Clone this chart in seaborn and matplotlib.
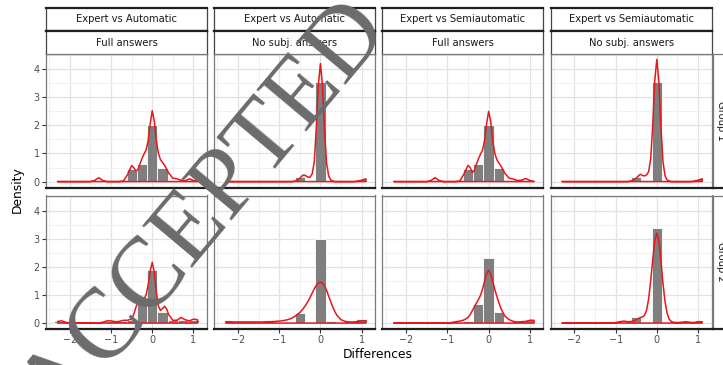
import matplotlib
matplotlib.use("Agg")
import matplotlib.pyplot as plt
import seaborn as sns
from matplotlib.ticker import MultipleLocator

# facet labels
comparisons = ["Expert vs Automatic", "Expert vs Automatic",
               "Expert vs Semiautomatic", "Expert vs Semiautomatic"]
answer_types = ["Full answers", "No subj. answers", "Full answers", "No subj. answers"]
groups = ["Group 1", "Group 2"]

# histogram (density scale), bins of width 0.25
bin_centers = [-2.25, -2.0, -1.75, -1.5, -1.25, -1.0, -0.75, -0.5, -0.25, 0.0, 0.25, 0.5, 0.75, 1.0]
h_g1_auto_full = [0, 0, 0, 0, 0.04, 0, 0.04, 0.46, 0.61, 2.0, 0.5, 0.06, 0.04, 0.04]
h_g1_auto_nosubj = [0, 0, 0, 0, 0, 0, 0, 0.16, 0.07, 3.53, 0.02, 0, 0, 0.08]
h_g1_semi_full = [0, 0, 0, 0, 0.04, 0, 0.04, 0.46, 0.61, 2.0, 0.5, 0.06, 0.04, 0.04]
h_g1_semi_nosubj = [0, 0, 0, 0, 0, 0, 0, 0.16, 0.05, 3.53, 0.02, 0, 0, 0.08]
h_g2_auto_full = [0.08, 0, 0, 0, 0, 0.06, 0.08, 0.1, 0.76, 1.9, 0.41, 0.12, 0.1, 0.12]
h_g2_auto_nosubj = [0.04, 0, 0, 0, 0, 0, 0, 0.35, 0.04, 3.01, 0.06, 0, 0, 0.13]
h_g2_semi_full = [0, 0, 0, 0, 0, 0, 0.04, 0.06, 0.68, 2.3, 0.41, 0.05, 0.04, 0.1]
h_g2_semi_nosubj = [0, 0, 0, 0, 0, 0, 0.04, 0.21, 0.04, 3.37, 0.04, 0.02, 0.02, 0.04]

# density curves
dens_x = [-2.3, -2.2, -2.1, -2.0, -1.8, -1.6, -1.5, -1.4, -1.3, -1.2, -1.1, -1.0,
          -0.9, -0.8, -0.7, -0.6, -0.5, -0.45, -0.4, -0.35, -0.3, -0.25, -0.2, -0.15,
          -0.1, -0.05, 0.0, 0.05, 0.1, 0.15, 0.2, 0.25, 0.3, 0.35, 0.4, 0.5,
          0.6, 0.7, 0.8, 0.9, 1.0, 1.1]
d_g1_auto_full = [0, 0, 0, 0, 0, 0, 0, 0.04, 0.14, 0.04, 0, 0,
                  0, 0, 0.02, 0.25, 0.57, 0.5, 0.38, 0.42, 0.62, 0.82, 0.98, 1.12,
                  1.45, 2.05, 2.52, 2.15, 1.45, 1.0, 0.78, 0.68, 0.58, 0.45, 0.3, 0.12,
                  0.1, 0.05, 0.03, 0.1, 0.04, 0.0]
d_g1_auto_nosubj = [0, 0, 0, 0, 0, 0, 0, 0, 0, 0, 0, 0,
                    0, 0, 0, 0.02, 0.12, 0.2, 0.24, 0.2, 0.16, 0.16, 0.28, 0.7,
                    1.9, 3.45, 4.2, 3.4, 1.8, 0.65, 0.2, 0.06, 0.02, 0, 0, 0,
                    0, 0, 0, 0.01, 0.05, 0.1]
d_g1_semi_full = [0, 0, 0, 0, 0, 0, 0, 0.04, 0.14, 0.04, 0, 0,
                  0, 0, 0.02, 0.27, 0.58, 0.5, 0.33, 0.38, 0.6, 0.8, 0.97, 1.12,
                  1.45, 2.05, 2.5, 2.15, 1.45, 1.0, 0.78, 0.66, 0.55, 0.42, 0.28, 0.12,
                  0.09, 0.04, 0.05, 0.11, 0.04, 0.0]
d_g1_semi_nosubj = [0, 0, 0, 0, 0, 0, 0, 0, 0, 0, 0, 0,
                    0, 0, 0, 0.03, 0.12, 0.2, 0.26, 0.22, 0.2, 0.24, 0.35, 0.8,
                    2.0, 3.6, 4.35, 3.55, 1.9, 0.7, 0.2, 0.06, 0.02, 0, 0, 0,
                    0, 0, 0, 0.01, 0.05, 0.1]
d_g2_auto_full = [0.06, 0.08, 0.03, 0, 0, 0, 0, 0, 0.01, 0.03, 0.08, 0.08,
                  0.05, 0.06, 0.1, 0.1, 0.15, 0.3, 0.55, 0.75, 0.8, 0.82, 0.86, 1.0,
                  1.35, 1.85, 2.16, 1.8, 1.1, 0.6, 0.45, 0.52, 0.6, 0.5, 0.3, 0.1,
                  0.1, 0.2, 0.12, 0.08, 0.14, 0.12]
d_g2_auto_nosubj = [0.05, 0.05, 0.04, 0.04, 0.04, 0.04, 0.04, 0.04, 0.05, 0.05, 0.06, 0.07,
                    0.09, 0.12, 0.17, 0.26, 0.38, 0.46, 0.55, 0.66, 0.78, 0.92, 1.07, 1.22,
                    1.34, 1.43, 1.46, 1.42, 1.32, 1.16, 0.96, 0.76, 0.57, 0.41, 0.28, 0.12,
                    0.06, 0.04, 0.04, 0.05, 0.08, 0.08]
d_g2_semi_full = [0, 0, 0, 0, 0, 0, 0, 0, 0, 0, 0, 0.0,
                  0.02, 0.05, 0.07, 0.11, 0.2, 0.3, 0.43, 0.57, 0.7, 0.83, 0.98, 1.2,
                  1.48, 1.75, 1.88, 1.75, 1.48, 1.2, 0.95, 0.72, 0.52, 0.36, 0.24, 0.12,
                  0.06, 0.04, 0.05, 0.06, 0.1, 0.1]
d_g2_semi_nosubj = [0, 0, 0, 0, 0, 0, 0, 0, 0, 0, 0, 0.02,
                    0.05, 0.07, 0.05, 0.06, 0.12, 0.16, 0.2, 0.22, 0.27, 0.45, 0.85, 1.5,
                    2.25, 2.93, 3.2, 2.93, 2.2, 1.4, 0.75, 0.35, 0.14, 0.06, 0.03, 0.02,
                    0.03, 0.05, 0.03, 0.02, 0.05, 0.05]

hists = [[h_g1_auto_full, h_g1_auto_nosubj, h_g1_semi_full, h_g1_semi_nosubj],
         [h_g2_auto_full, h_g2_auto_nosubj, h_g2_semi_full, h_g2_semi_nosubj]]
dens = [[d_g1_auto_full, d_g1_auto_nosubj, d_g1_semi_full, d_g1_semi_nosubj],
        [d_g2_auto_full, d_g2_auto_nosubj, d_g2_semi_full, d_g2_semi_nosubj]]

sns.set_theme(style="white")
plt.rcParams['font.family'] = ['DejaVu Sans']

W, H = 723, 365
fig = plt.figure(figsize=(W / 100, H / 100), dpi=100)


def box(x0, y0, w, h):
    # pixel box (top-left origin) -> figure fraction
    return [x0 / W, 1 - (y0 + h) / H, w / W, h / H]


col_left = [46, 214.2, 382.4, 550.6]
pw = 161
row_top = [54, 195.5]
ph = 133.5
strip_h = 23

for r in range(2):
    for c in range(4):
        ax = fig.add_axes(box(col_left[c], row_top[r], pw, ph))
        ax.set_facecolor("white")
        sns.histplot(x=bin_centers, weights=hists[r][c], binwidth=0.25,
                     binrange=(-2.375, 1.125), stat="count", color="#7f7f7f",
                     edgecolor="white", linewidth=0.6, alpha=1, ax=ax, zorder=2)
        # closed outline like geom_density (curve then baseline back)
        xs = dens_x + [dens_x[-1], dens_x[0]]
        ys = dens[r][c] + [0, 0]
        sns.lineplot(x=xs, y=ys, sort=False, estimator=None, color="#e8171c",
                     linewidth=1.1, ax=ax, zorder=3)
        ax.set_xlim(-2.58, 1.33)
        ax.set_ylim(-0.21, 4.54)
        ax.xaxis.set_major_locator(MultipleLocator(1))
        ax.xaxis.set_minor_locator(MultipleLocator(0.5))
        ax.yaxis.set_major_locator(MultipleLocator(1))
        ax.yaxis.set_minor_locator(MultipleLocator(0.5))
        ax.grid(which="major", color="#e2e2e2", linewidth=0.9, zorder=0)
        ax.grid(which="minor", color="#efefef", linewidth=0.6, zorder=0)
        ax.set_axisbelow(True)
        ax.set_xlabel("")
        ax.set_ylabel("")
        for s in ["left", "right", "top"]:
            ax.spines[s].set_color("#7a7a7a")
            ax.spines[s].set_linewidth(0.9)
        ax.spines["bottom"].set_color("#1e1e1e")
        ax.spines["bottom"].set_linewidth(1.6)
        ax.tick_params(which="minor", length=0)
        ax.tick_params(which="major", length=2.6, width=0.8, color="#333333",
                       labelsize=6.9, labelcolor="#4d4d4d", pad=2)
        if c == 0:
            ax.tick_params(axis="y", left=True, labelleft=True)
        else:
            ax.tick_params(axis="y", left=False, labelleft=False)
        if r == 1:
            ax.tick_params(axis="x", bottom=True, labelbottom=True)
        else:
            ax.tick_params(axis="x", bottom=False, labelbottom=False)

# column strips (two levels)
for c in range(4):
    for lvl, label in enumerate([comparisons[c], answer_types[c]]):
        sax = fig.add_axes(box(col_left[c], 8 + lvl * strip_h, pw, strip_h))
        sax.set_facecolor("white")
        sax.set_xticks([])
        sax.set_yticks([])
        sax.spines["top"].set_color("#1e1e1e")
        sax.spines["top"].set_linewidth(1.6)
        sax.spines["bottom"].set_color("#1e1e1e" if lvl == 0 else "#7a7a7a")
        sax.spines["bottom"].set_linewidth(1.6 if lvl == 0 else 0.9)
        for s in ["left", "right"]:
            sax.spines[s].set_color("#444444")
            sax.spines[s].set_linewidth(0.9)
        sax.text(0.5, 0.5, label, ha="center", va="center", fontsize=7.2,
                 color="#1a1a1a", transform=sax.transAxes)

# row strips on the right (cut by the picture edge)
for r in range(2):
    sax = fig.add_axes(box(713, row_top[r], 17, ph))
    sax.set_facecolor("white")
    sax.set_xticks([])
    sax.set_yticks([])
    for s in ["left", "top", "right"]:
        sax.spines[s].set_color("#7a7a7a")
        sax.spines[s].set_linewidth(0.9)
    sax.spines["bottom"].set_color("#1e1e1e")
    sax.spines["bottom"].set_linewidth(1.6)
    sax.text(0.5, 0.5, groups[r], ha="center", va="center", rotation=270,
             fontsize=7.2, color="#1a1a1a", transform=sax.transAxes)

fig.text(17 / W, 1 - 190 / H, "Density", rotation=90, ha="center", va="center",
         fontsize=8.8, color="#000000")
fig.text(378 / W, 1 - 355 / H, "Differences", ha="center", va="center",
         fontsize=8.8, color="#000000")

# watermark stamped across the figure
fig.text(205 / W, 1 - 212 / H, "ACCEPTED", rotation=50, ha="center", va="center",
         rotation_mode="anchor", fontsize=72, family=["Liberation Serif", "DejaVu Serif"],
         color="#6b6b6b", zorder=10)

fig.savefig("out.png", dpi=100)
